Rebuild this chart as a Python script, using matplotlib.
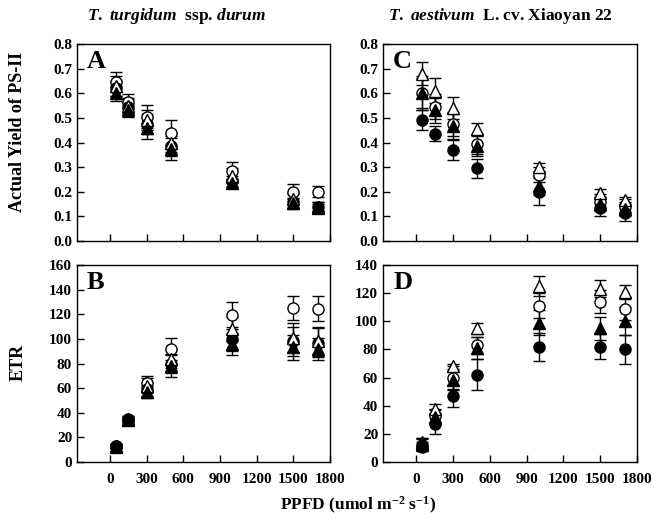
import matplotlib
matplotlib.use("Agg")
import matplotlib.pyplot as plt

plt.rcParams['font.family'] = ['Liberation Serif', 'DejaVu Serif']
plt.rcParams['font.weight'] = 'bold'
plt.rcParams['mathtext.fontset'] = 'custom'
plt.rcParams['mathtext.rm'] = 'Liberation Serif:bold'
plt.rcParams['mathtext.it'] = 'Liberation Serif:italic:bold'
plt.rcParams['mathtext.bf'] = 'Liberation Serif:bold'

# light intensities (PPFD)
ppfd = [50, 150, 300, 500, 1000, 1500, 1700]
xticks = [0, 300, 600, 900, 1200, 1500, 1800]

# A: yield, T. turgidum ssp. durum
a_oc = [0.645, 0.565, 0.505, 0.44, 0.285, 0.20, 0.20]
a_fc = [0.62, 0.545, 0.475, 0.385, 0.245, 0.16, 0.14]
a_ot = [0.63, 0.55, 0.49, 0.40, 0.265, 0.17, 0.14]
a_ft = [0.60, 0.53, 0.46, 0.375, 0.235, 0.155, 0.135]
a_oc_err = [0.04, 0.03, 0.048, 0.05, 0.035, 0.03, 0.022]
a_fc_err = [0.03, 0.03, 0.04, 0.04, 0.02, 0.03, 0.02]
a_ot_err = [0.04, 0.03, 0.04, 0.04, 0.03, 0.03, 0.02]
a_ft_err = [0.03, 0.025, 0.045, 0.045, 0.015, 0.02, 0.015]

# B: ETR, T. turgidum ssp. durum
b_oc = [13, 35, 64, 92, 119, 125, 124.5]
b_fc = [13, 34.5, 59, 80, 100, 98, 97]
b_ot = [13, 35, 62, 84, 108, 101, 98]
b_ft = [12.5, 34, 57, 78, 96, 93, 92]
b_oc_err = [2, 2, 6, 9, 11, 10, 10]
b_fc_err = [2, 2, 5, 8, 10, 12, 12]
b_ot_err = [2, 2, 6, 8, 10, 12, 12]
b_ft_err = [2, 2, 5, 9, 9, 10, 9]

# C: yield, T. aestivum L. cv. Xiaoyan 22
c_oc = [0.60, 0.545, 0.475, 0.395, 0.27, 0.16, 0.14]
c_fc = [0.49, 0.435, 0.37, 0.295, 0.20, 0.135, 0.115]
c_ot = [0.68, 0.61, 0.54, 0.455, 0.30, 0.195, 0.165]
c_ft = [0.60, 0.53, 0.465, 0.385, 0.225, 0.15, 0.13]
c_oc_err = [0.07, 0.05, 0.05, 0.04, 0.03, 0.03, 0.03]
c_fc_err = [0.04, 0.03, 0.04, 0.04, 0.055, 0.035, 0.035]
c_ot_err = [0.045, 0.05, 0.045, 0.025, 0.015, 0.015, 0.015]
c_ft_err = [0.06, 0.05, 0.05, 0.04, 0.04, 0.03, 0.03]

# D: ETR, T. aestivum L. cv. Xiaoyan 22
d_oc = [12, 33, 60, 83, 111, 114, 109]
d_fc = [11, 27, 47, 62, 82, 82, 80]
d_ot = [14, 38, 68, 95, 125, 123, 121]
d_ft = [13, 32, 58, 81, 99, 95, 100]
d_oc_err = [4, 5, 8, 6, 9, 8, 8]
d_fc_err = [3, 7, 8, 11, 10, 9, 10]
d_ot_err = [3, 3, 2, 4, 7, 6, 5]
d_ft_err = [4, 5, 7, 8, 9, 8, 10]

fig = plt.figure(figsize=(6.54, 5.30), dpi=100)
W, H = 654.0, 530.0


def add_panel(l, t, r, b):
    return fig.add_axes([l / W, 1 - b / H, (r - l) / W, (b - t) / H])


def draw(ax, oc, fc, ot, ft, oc_e, fc_e, ot_e, ft_e, ylim, yticks, yfmt, letter):
    kw = dict(ecolor='black', elinewidth=1.0, capsize=4.5, capthick=1.0,
              linestyle='none', markersize=8, markeredgewidth=1.0)
    ax.errorbar(ppfd, oc, yerr=oc_e, marker='o', mfc='white', mec='black', **kw)
    ax.errorbar(ppfd, fc, yerr=fc_e, marker='o', mfc='black', mec='black', **kw)
    ax.errorbar(ppfd, ot, yerr=ot_e, marker='^', mfc='white', mec='black', **kw)
    ax.errorbar(ppfd, ft, yerr=ft_e, marker='^', mfc='black', mec='black', **kw)
    ax.set_xlim(-270, 1800)
    ax.set_ylim(*ylim)
    ax.set_xticks(xticks)
    ax.set_yticks(yticks)
    ax.set_yticklabels([yfmt.format(v) for v in yticks])
    ax.tick_params(direction='in', length=5, width=1, labelsize=11,
                   top=False, right=False)
    for s in ax.spines.values():
        s.set_linewidth(1.0)
    ax.text(0.04, 0.97, letter, transform=ax.transAxes, fontsize=19,
            fontweight='bold', va='top', ha='left')


yield_ticks = [0.0, 0.1, 0.2, 0.3, 0.4, 0.5, 0.6, 0.7, 0.8]

axA = add_panel(77, 44, 330, 241)
draw(axA, a_oc, a_fc, a_ot, a_ft, a_oc_err, a_fc_err, a_ot_err, a_ft_err,
     (0, 0.8), yield_ticks, '{:.1f}', 'A')
axA.set_xticklabels([])

axC = add_panel(383, 44, 637, 241)
draw(axC, c_oc, c_fc, c_ot, c_ft, c_oc_err, c_fc_err, c_ot_err, c_ft_err,
     (0, 0.8), yield_ticks, '{:.1f}', 'C')
axC.set_xticklabels([])

axB = add_panel(77, 265, 330, 462)
draw(axB, b_oc, b_fc, b_ot, b_ft, b_oc_err, b_fc_err, b_ot_err, b_ft_err,
     (0, 160), list(range(0, 161, 20)), '{:d}', 'B')
axB.tick_params(axis='x', pad=8)

axD = add_panel(383, 265, 637, 462)
draw(axD, d_oc, d_fc, d_ot, d_ft, d_oc_err, d_fc_err, d_ot_err, d_ft_err,
     (0, 140), list(range(0, 141, 20)), '{:d}', 'D')
axD.tick_params(axis='x', pad=8)

fig.text(18 / W, 1 - 132 / H, 'Actual Yield of PS-II', rotation=90,
         fontsize=13, fontweight='bold', ha='center', va='center')
fig.text(18 / W, 1 - 362 / H, 'ETR', rotation=90,
         fontsize=13, fontweight='bold', ha='center', va='center')
fig.text(358 / W, 1 - 505 / H,
         r'PPFD (umol m$^{\mathbf{-2}}$ s$^{\mathbf{-1}}$)',
         fontsize=12.5, fontweight='bold', ha='center', va='center')
fig.text(176 / W, 1 - 16 / H, r'$\mathit{T.\ turgidum}$  ssp. $\mathit{durum}$',
         fontsize=12.5, ha='center', va='center')
fig.text(500 / W, 1 - 16 / H, r'$\mathit{T.\ aestivum}$  L. cv. Xiaoyan 22',
         fontsize=12.5, ha='center', va='center')

fig.savefig('out.png', dpi=100)
